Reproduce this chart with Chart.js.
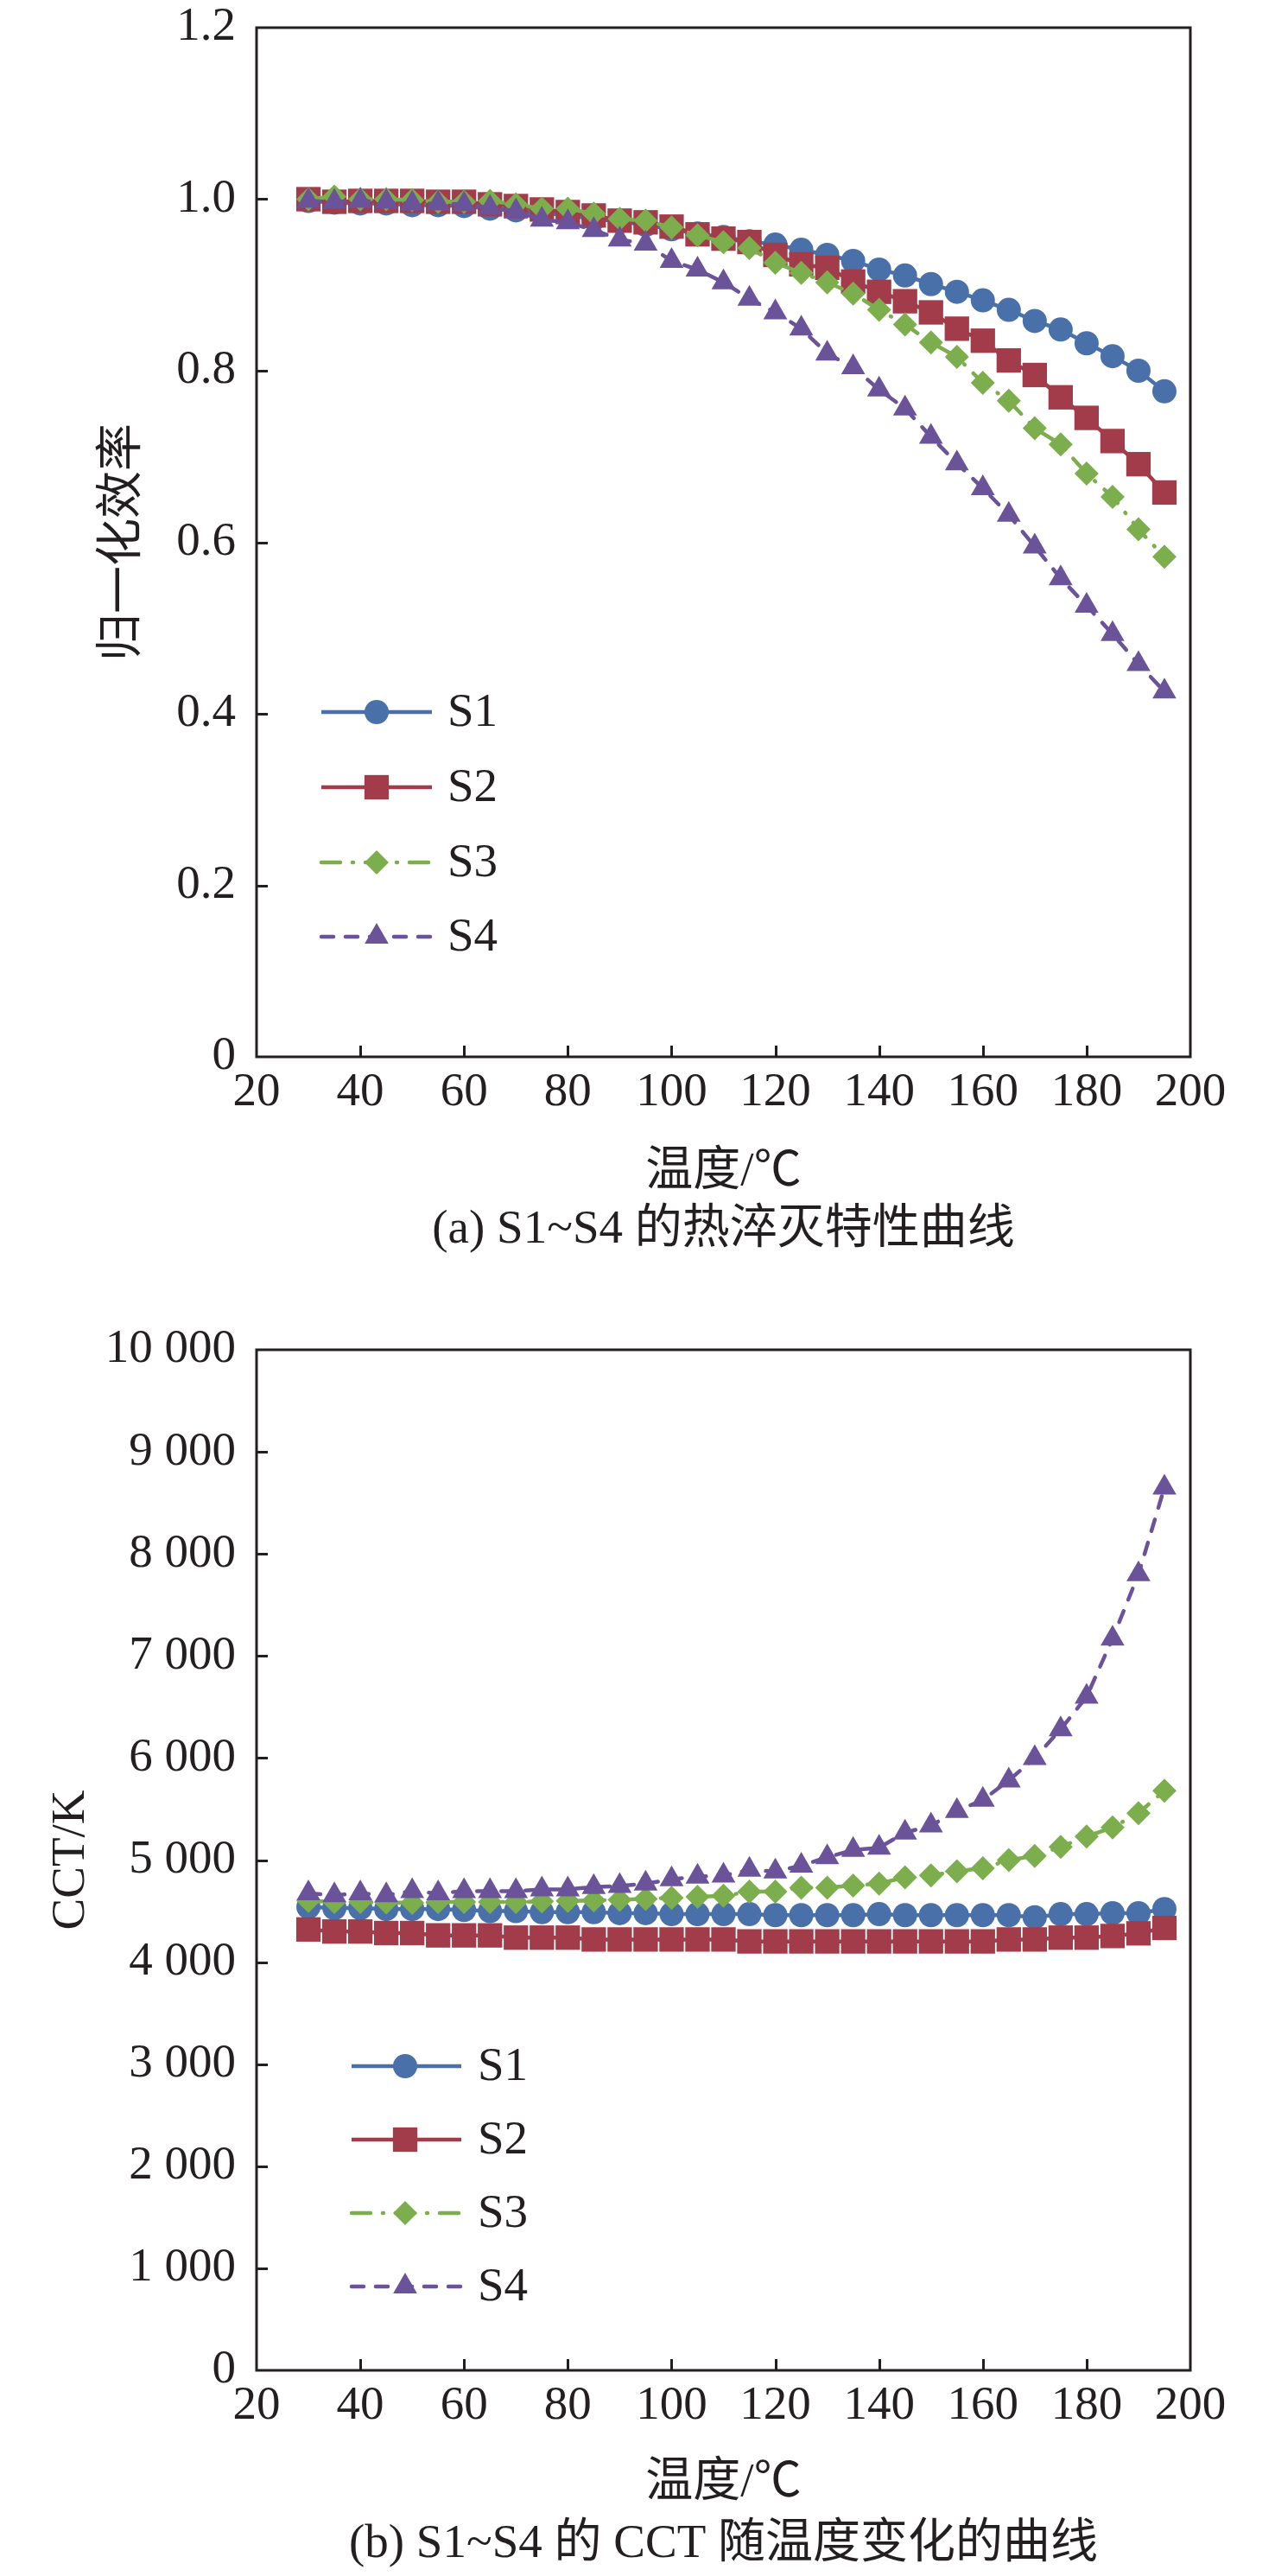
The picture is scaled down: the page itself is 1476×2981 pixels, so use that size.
<!DOCTYPE html>
<html><head><meta charset="utf-8">
<script src="https://cdn.jsdelivr.net/npm/chart.js@4.4.1/dist/chart.umd.min.js"></script>
<style>
html,body{margin:0;padding:0;background:#fff;overflow:hidden;}
#wrap{position:relative;width:1476px;height:2981px;background:#fff;overflow:hidden;}
canvas{position:absolute;left:0;}
</style></head><body>
<div id="wrap">
<canvas id="ca" width="1476" height="1520" style="top:-40px"></canvas>
<canvas id="cb" width="1476" height="1501" style="top:1480px"></canvas>
</div>
<script>
// ---------- data ----------
const temps = [30,35,40,45,50,55,60,65,70,75,80,85,90,95,100,105,110,115,120,125,130,135,140,145,150,155,160,165,170,175,180,185,190,195];
const seriesNames = ['S1','S2','S3','S4'];

// (a) normalized efficiency
const effS1 = [0.998,0.996,0.995,0.995,0.993,0.993,0.992,0.989,0.987,0.984,0.981,0.977,0.974,0.970,0.965,0.960,0.956,0.951,0.947,0.941,0.935,0.928,0.918,0.911,0.901,0.892,0.882,0.871,0.858,0.848,0.832,0.817,0.800,0.776];
const effS2 = [1.000,0.997,0.998,0.998,0.998,0.997,0.997,0.994,0.992,0.988,0.985,0.981,0.975,0.973,0.968,0.959,0.954,0.950,0.935,0.924,0.920,0.904,0.892,0.881,0.868,0.849,0.835,0.812,0.795,0.769,0.745,0.718,0.691,0.658];
const effS3 = [1.000,1.003,1.000,1.000,0.999,0.997,0.997,0.998,0.994,0.989,0.989,0.983,0.977,0.975,0.967,0.958,0.950,0.943,0.926,0.914,0.903,0.890,0.871,0.854,0.833,0.816,0.786,0.765,0.733,0.714,0.680,0.653,0.615,0.583];
const effS4 = [0.998,0.997,0.998,0.997,0.995,0.995,0.994,0.990,0.986,0.976,0.973,0.964,0.953,0.948,0.928,0.918,0.903,0.884,0.868,0.849,0.820,0.804,0.778,0.756,0.723,0.692,0.663,0.632,0.595,0.558,0.526,0.493,0.458,0.426];

// (b) CCT (K)
const cctS1 = [4540,4530,4530,4520,4520,4520,4510,4500,4500,4490,4490,4490,4480,4480,4470,4470,4470,4470,4460,4460,4460,4460,4470,4460,4460,4460,4460,4460,4440,4470,4470,4480,4480,4520];
const cctS2 = [4320,4300,4300,4285,4285,4262,4262,4262,4240,4240,4240,4222,4222,4222,4222,4222,4222,4203,4203,4203,4203,4203,4203,4203,4203,4203,4203,4222,4222,4240,4240,4256,4282,4335];
const cctS3 = [4600,4590,4590,4585,4580,4590,4590,4590,4590,4595,4600,4605,4610,4620,4630,4640,4650,4690,4690,4730,4730,4750,4770,4830,4850,4890,4920,5000,5040,5130,5230,5320,5460,5680];
const cctS4 = [4673,4656,4673,4656,4696,4673,4696,4696,4696,4713,4713,4735,4746,4769,4811,4837,4848,4904,4887,4946,5028,5099,5121,5268,5338,5480,5590,5780,6000,6280,6600,7170,7800,8650];

// ticks
const xTicks = [20,40,60,80,100,120,140,160,180,200];
const yTickValsA = [0,0.2,0.4,0.6,0.8,1.0,1.2];
const yTickLabelsA = ['0','0.2','0.4','0.6','0.8','1.0','1.2'];
const yTickValsB = [0,1000,2000,3000,4000,5000,6000,7000,8000,9000,10000];
const yTickLabelsB = ['0','1 000','2 000','3 000','4 000','5 000','6 000','7 000','8 000','9 000','10 000'];

// texts
const xTitle = '温度/℃';
const yTitleA = '归一化效率';
const yTitleB = 'CCT/K';
const captionA = '(a) S1~S4 的热淬灭特性曲线';
const captionB = '(b) S1~S4 的 CCT 随温度变化的曲线';

// ---------- styles ----------
const INK = '#231f20';
const SERIF = '"Liberation Serif", "Noto Sans CJK SC", serif';
const LW = 4.5;
const styles = [
  {color:'#4A70A9', point:'circle',   radius:14, dash:[],            cap:'butt'},
  {color:'#A33C4A', point:'rect',     radius:20, dash:[],            cap:'butt'},
  {color:'#7DAE4E', point:'rectRot',  radius:14, dash:[22,14,1,14],  cap:'round'},
  {color:'#6A5399', point:'triangle', radius:16, dash:[14,14],       cap:'round'}
];

function drawMarker(ctx, style, r, x, y) {
  ctx.beginPath();
  if (style === 'circle') {
    ctx.arc(x, y, r, 0, Math.PI*2);
  } else if (style === 'rect') {
    const s = Math.SQRT1_2 * r;
    ctx.rect(x - s, y - s, 2*s, 2*s);
  } else if (style === 'rectRot') {
    ctx.moveTo(x - r, y); ctx.lineTo(x, y - r); ctx.lineTo(x + r, y); ctx.lineTo(x, y + r);
  } else if (style === 'triangle') {
    let rad = 0;
    ctx.moveTo(x + Math.sin(rad)*r, y - Math.cos(rad)*r);
    rad += 2*Math.PI/3;
    ctx.lineTo(x + Math.sin(rad)*r, y - Math.cos(rad)*r);
    rad += 2*Math.PI/3;
    ctx.lineTo(x + Math.sin(rad)*r, y - Math.cos(rad)*r);
  }
  ctx.closePath();
  ctx.fill();
}

const decor = {
  id: 'decor',
  afterDraw(chart) {
    const o = chart.options.plugins.decor;
    const {ctx, chartArea: a, scales} = chart;
    ctx.save();
    // inner tick marks
    ctx.strokeStyle = INK; ctx.lineWidth = 3; ctx.setLineDash([]);
    ctx.beginPath();
    xTicks.forEach(v => {
      if (v === 20 || v === 200) return;
      const px = Math.round(scales.x.getPixelForValue(v)) + 0.5;
      ctx.moveTo(px, a.bottom); ctx.lineTo(px, a.bottom - 13);
    });
    o.yVals.forEach((v, i) => {
      if (i === 0 || i === o.yVals.length - 1) return;
      const py = Math.round(scales.y.getPixelForValue(v)) + 0.5;
      ctx.moveTo(a.left, py); ctx.lineTo(a.left + 13, py);
    });
    ctx.stroke();
    // frame
    ctx.strokeRect(a.left, a.top, a.right - a.left, a.bottom - a.top);

    // legend
    o.legendRows.forEach((ly, i) => {
      const st = styles[i];
      ctx.strokeStyle = st.color; ctx.fillStyle = st.color;
      ctx.lineWidth = LW; ctx.lineCap = st.cap; ctx.setLineDash(st.dash);
      ctx.beginPath();
      ctx.moveTo(o.legendX1, ly); ctx.lineTo(o.legendX2, ly);
      ctx.stroke();
      ctx.setLineDash([]);
      drawMarker(ctx, st.point, st.radius, o.legendMarkX, ly);
      ctx.fillStyle = INK;
      ctx.font = '55px ' + SERIF;
      ctx.textAlign = 'left'; ctx.textBaseline = 'middle';
      ctx.fillText(seriesNames[i], o.legendTextX, ly + 2);
    });

    // titles
    ctx.fillStyle = INK;
    ctx.textAlign = 'center'; ctx.textBaseline = 'middle';
    ctx.font = '55px ' + SERIF;
    const cx = (a.left + a.right) / 2;
    ctx.fillText(xTitle, cx, o.xTitleY);
    ctx.fillText(o.caption, cx, o.captionY);
    ctx.save();
    ctx.translate(o.yTitleX, (a.top + a.bottom) / 2);
    ctx.rotate(-Math.PI / 2);
    ctx.fillText(o.yTitle, 0, 0);
    ctx.restore();
    ctx.restore();
  }
};

function build(id, series, yMin, yMax, yVals, yLabels, padTop, xHeight, deco) {
  const datasets = series.map((arr, i) => ({
    label: seriesNames[i],
    data: temps.map((t, k) => ({x: t, y: arr[k]})),
    borderColor: styles[i].color,
    backgroundColor: styles[i].color,
    borderWidth: LW,
    borderDash: styles[i].dash,
    borderCapStyle: styles[i].cap,
    pointStyle: styles[i].point,
    pointRadius: styles[i].radius,
    pointHoverRadius: styles[i].radius,
    pointBackgroundColor: styles[i].color,
    pointBorderColor: styles[i].color,
    pointBorderWidth: 0,
    tension: 0,
    fill: false,
    order: 3 - i
  }));
  return new Chart(document.getElementById(id), {
    type: 'line',
    data: {datasets},
    plugins: [decor],
    options: {
      responsive: false,
      animation: false,
      devicePixelRatio: 1,
      layout: {padding: {top: padTop, right: 98, bottom: 0, left: 0}},
      scales: {
        x: {
          type: 'linear', min: 20, max: 200,
          afterBuildTicks: s => { s.ticks = xTicks.map(v => ({value: v})); },
          afterFit: s => { s.height = xHeight; },
          ticks: {font: {family: SERIF, size: 55, lineHeight: 1}, color: INK, padding: 14,
                  maxRotation: 0, autoSkip: false, callback: v => String(v)},
          grid: {display: false, drawTicks: false},
          border: {display: false}
        },
        y: {
          type: 'linear', min: yMin, max: yMax,
          afterBuildTicks: s => { s.ticks = yVals.map(v => ({value: v})); },
          afterFit: s => { s.width = 297; },
          ticks: {font: {family: SERIF, size: 55, lineHeight: 1}, color: INK, padding: 24,
                  autoSkip: false, callback: (v, idx) => yLabels[idx]},
          grid: {display: false, drawTicks: false},
          border: {display: false}
        }
      },
      plugins: {
        legend: {display: false},
        tooltip: {enabled: false},
        decor: deco
      }
    }
  });
}

// canvas A is shifted up by 40px so that the plot top lands at page y = 32
build('ca', [effS1, effS2, effS3, effS4], 0, 1.2, yTickValsA, yTickLabelsA, 72, 257, {
  yVals: yTickValsA, yTitle: yTitleA, yTitleX: 143, xTitleY: 1397, caption: captionA, captionY: 1464,
  legendRows: [864, 951, 1038, 1124], legendX1: 372, legendX2: 500, legendMarkX: 436, legendTextX: 518
});
build('cb', [cctS1, cctS2, cctS3, cctS4], 0, 10000, yTickValsB, yTickLabelsB, 82, 238, {
  yVals: yTickValsB, yTitle: yTitleB, yTitleX: 83, xTitleY: 1394, caption: captionB, captionY: 1465,
  legendRows: [911, 996, 1081, 1166], legendX1: 407, legendX2: 534, legendMarkX: 469, legendTextX: 553
});
</script>
</body></html>
